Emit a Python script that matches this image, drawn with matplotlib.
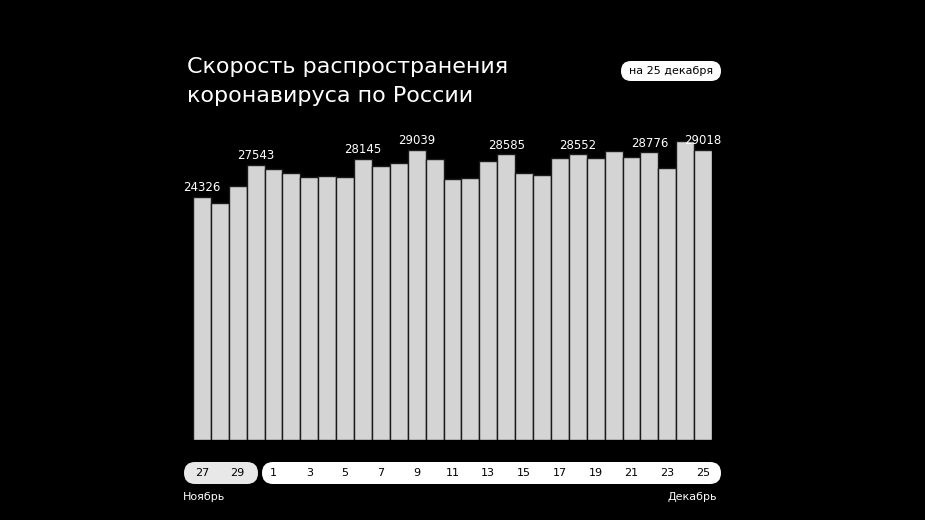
import matplotlib.pyplot as plt
from matplotlib.patches import FancyBboxPatch

days = [27, 28, 29, 30] + list(range(1, 26))
cases = [24326, 23700, 25400, 27543, 27100, 26700, 26300, 26400, 26300, 28145,
         27400, 27700, 29039, 28100, 26100, 26200, 27900, 28585, 26700, 26500,
         28200, 28552, 28200, 28900, 28300, 28776, 27200, 29900, 29018]
labeled = [0, 3, 9, 12, 17, 21, 25, 28]
nov_ticks = [0, 2]
dec_ticks = list(range(4, 29, 2))

W, H = 925, 520
fig = plt.figure(figsize=(9.25, 5.2), dpi=100, facecolor="black")

# overlay in pixel coordinates for title, badge and pills
ov = fig.add_axes([0, 0, 1, 1])
ov.set_xlim(0, W)
ov.set_ylim(H, 0)
ov.axis("off")

ax = fig.add_axes([193 / W, 1 - 440 / H, (712 - 193) / W, 310 / H])
ax.set_facecolor("black")
x = range(len(cases))
ax.bar(x, cases, width=1.0, color="#d4d4d4", edgecolor="#1a1a1a", linewidth=1.0)
ax.set_xlim(-0.5, len(cases) - 0.5)
ax.set_ylim(0, 31000)
ax.axis("off")
for i in labeled:
    ax.text(i, cases[i] + 250, f"{cases[i]}", ha="center", va="bottom",
            color="white", fontsize=8.5)


def pill(x0, x1, y0, y1, color):
    r = (y1 - y0) / 2
    ov.add_patch(FancyBboxPatch((x0, y0), x1 - x0, y1 - y0,
                                boxstyle=f"round,pad=0,rounding_size={r}",
                                facecolor=color, edgecolor="none"))


ov.text(187, 67, "Скорость распространения", color="white", fontsize=16,
        va="center", ha="left")
ov.text(187, 96, "коронавируса по России", color="white", fontsize=16,
        va="center", ha="left")
pill(621, 721, 61, 81, "white")
ov.text(671, 71, "на 25 декабря", color="black", fontsize=8, ha="center", va="center")

pill(184, 258, 462, 484, "#e8e8e8")
pill(262, 721, 462, 484, "white")
for i in nov_ticks + dec_ticks:
    xd = ax.transData.transform((i, 0))[0]
    ov.text(xd, 473, str(days[i]), color="black", fontsize=8, ha="center", va="center")
ov.text(183, 497, "Ноябрь", color="white", fontsize=8, va="center")
ov.text(717, 497, "Декабрь", color="white", fontsize=8, va="center", ha="right")

fig.savefig("out.png", dpi=100, facecolor="black")
